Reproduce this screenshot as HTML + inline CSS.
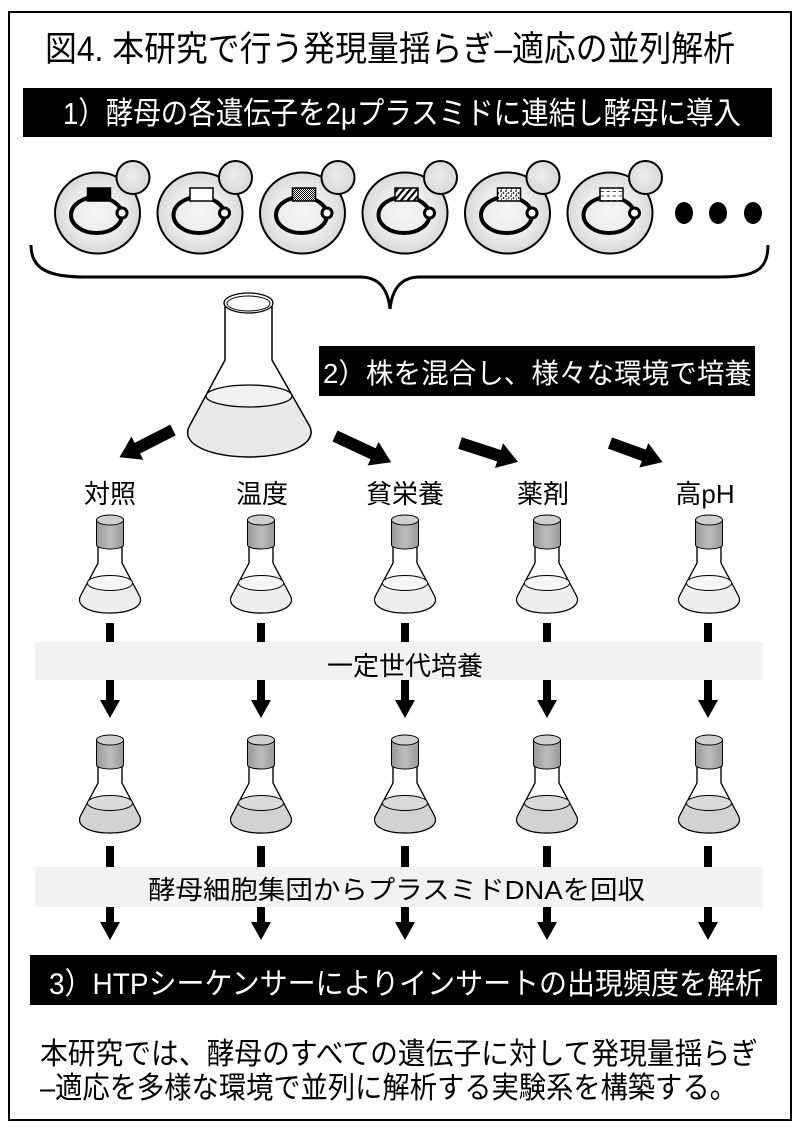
<!DOCTYPE html>
<html><head><meta charset="utf-8"><style>
html,body{margin:0;padding:0;background:#fff;}
svg{display:block;}
text{font-family:"Liberation Sans","Noto Sans CJK JP",sans-serif;}
</style></head><body>
<svg width="807" height="1128" viewBox="0 0 807 1128" xmlns="http://www.w3.org/2000/svg">
<defs>
  <radialGradient id="cell" cx="50%" cy="50%" r="50%">
    <stop offset="0" stop-color="#f5f5f5"/><stop offset="0.65" stop-color="#eaeaea"/><stop offset="1" stop-color="#d8d8d8"/>
  </radialGradient>
  <radialGradient id="bud" cx="45%" cy="45%" r="55%">
    <stop offset="0" stop-color="#ececec"/><stop offset="1" stop-color="#d8d8d8"/>
  </radialGradient>
  <linearGradient id="cap" x1="0" x2="1" y1="0" y2="0">
    <stop offset="0" stop-color="#999"/><stop offset="0.5" stop-color="#bdbdbd"/><stop offset="1" stop-color="#999"/>
  </linearGradient>
  <pattern id="p3" width="2" height="2" patternUnits="userSpaceOnUse">
    <rect width="2" height="2" fill="#fff"/><rect width="1" height="1" fill="#000"/><rect x="1" y="1" width="1" height="1" fill="#000"/>
  </pattern>
  <pattern id="p4" width="5" height="5" patternUnits="userSpaceOnUse" patternTransform="rotate(40)">
    <rect width="5" height="5" fill="#fff"/><rect width="2.2" height="5" fill="#000"/>
  </pattern>
  <pattern id="p5" width="5" height="5" patternUnits="userSpaceOnUse">
    <rect width="5" height="5" fill="#fff"/><circle cx="1" cy="1" r="0.9" fill="#000"/><circle cx="3.5" cy="3" r="0.9" fill="#000"/><circle cx="1.5" cy="4" r="0.6" fill="#000"/>
  </pattern>
  <pattern id="p6" width="6" height="4.5" patternUnits="userSpaceOnUse">
    <rect width="6" height="4.5" fill="#fff"/><rect x="0.5" y="2" width="3.5" height="1" fill="#555"/>
  </pattern>

  <g id="flaskA">
    <path d="M-12,30 L-12,48 L-29,80 C-35,90 -22,98 0,98 C22,98 35,90 29,80 L12,48 L12,30" fill="#fff" stroke="#000" stroke-width="1.2"/>
    <path d="M-22.6,68 A23,7.5 0 0 1 22.6,68 L29,80 C35,90 22,98 0,98 C-22,98 -35,90 -29,80 Z" fill="#eeeeee"/>
    <path d="M-12,30 L-12,48 L-29,80 C-35,90 -22,98 0,98 C22,98 35,90 29,80 L12,48 L12,30" fill="none" stroke="#000" stroke-width="1.2"/>
    <ellipse cx="0" cy="68" rx="22.6" ry="7.5" fill="#f5f5f5" stroke="#000" stroke-width="1"/>
    <path d="M-13.5,5 L-13.5,30 A13.5,4 0 0 0 13.5,30 L13.5,5 Z" fill="url(#cap)" stroke="#000" stroke-width="1"/>
    <ellipse cx="0" cy="5" rx="13.5" ry="5" fill="#cfcfcf" stroke="#000" stroke-width="1"/>
  </g>
  <g id="flaskB">
    <path d="M-12,30 L-12,48 L-29,80 C-35,90 -22,98 0,98 C22,98 35,90 29,80 L12,48 L12,30" fill="#fff" stroke="#000" stroke-width="1.2"/>
    <path d="M-22.6,68 A23,7.5 0 0 1 22.6,68 L29,80 C35,90 22,98 0,98 C-22,98 -35,90 -29,80 Z" fill="#d2d2d2"/>
    <path d="M-12,30 L-12,48 L-29,80 C-35,90 -22,98 0,98 C22,98 35,90 29,80 L12,48 L12,30" fill="none" stroke="#000" stroke-width="1.2"/>
    <ellipse cx="0" cy="68" rx="22.6" ry="7.5" fill="#dadada" stroke="#000" stroke-width="1"/>
    <path d="M-13.5,5 L-13.5,30 A13.5,4 0 0 0 13.5,30 L13.5,5 Z" fill="url(#cap)" stroke="#000" stroke-width="1"/>
    <ellipse cx="0" cy="5" rx="13.5" ry="5" fill="#cfcfcf" stroke="#000" stroke-width="1"/>
  </g>
  <g id="cellg">
    <ellipse cx="0" cy="213" rx="42.5" ry="40.5" fill="url(#cell)" stroke="#000" stroke-width="2"/>
    <circle cx="35.5" cy="177.5" r="16.5" fill="url(#bud)" stroke="#000" stroke-width="2"/>
    <ellipse cx="-1" cy="215" rx="25.5" ry="18" fill="none" stroke="#000" stroke-width="4"/>
    <circle cx="24.5" cy="213" r="5" fill="#fff" stroke="#000" stroke-width="3"/>
  </g>
</defs>

<rect width="807" height="1128" fill="#fff"/>
<rect x="9" y="12" width="782" height="1108" fill="none" stroke="#000" stroke-width="2"/>

<!-- Title -->
<text x="45" y="61" font-size="35" textLength="690" lengthAdjust="spacingAndGlyphs" fill="#000">図4. 本研究で行う発現量揺らぎ–適応の並列解析</text>

<!-- Bar 1 -->
<rect x="23" y="88" width="749" height="49" fill="#000"/>
<text x="63" y="124" font-size="31" textLength="678" lengthAdjust="spacingAndGlyphs" fill="#fff">1）酵母の各遺伝子を2μプラスミドに連結し酵母に導入</text>

<!-- Cells -->
<use href="#cellg" x="97.5" y="0"/>
<rect x="87.5" y="188" width="23" height="13" fill="#000" stroke="#000" stroke-width="1.5"/>
<use href="#cellg" x="200" y="0"/>
<rect x="190" y="188" width="23" height="13" fill="#fff" stroke="#000" stroke-width="1.5"/>
<use href="#cellg" x="302.5" y="0"/>
<rect x="292.5" y="188" width="23" height="13" fill="url(#p3)" stroke="#000" stroke-width="1.5"/>
<use href="#cellg" x="405" y="0"/>
<rect x="395" y="188" width="23" height="13" fill="url(#p4)" stroke="#000" stroke-width="1.5"/>
<use href="#cellg" x="507.5" y="0"/>
<rect x="497.5" y="188" width="23" height="13" fill="url(#p5)" stroke="#000" stroke-width="1.5"/>
<use href="#cellg" x="610" y="0"/>
<rect x="600" y="188" width="23" height="13" fill="url(#p6)" stroke="#000" stroke-width="1.5"/>

<ellipse cx="684" cy="213" rx="9" ry="11" fill="#000"/>
<ellipse cx="718" cy="213" rx="9" ry="11" fill="#000"/>
<ellipse cx="753" cy="213" rx="9" ry="11" fill="#000"/>

<!-- Brace -->
<path d="M31,245 C31,270 50,277 85,277 L360,277 C380,277 388,290 390,309 C392,290 400,277 420,277 L720,277 C755,277 768,270 768,245" fill="none" stroke="#000" stroke-width="3"/>

<!-- Big flask -->
<path d="M206,396 A43,11 0 0 1 292,396 L309,425 C320,445 285,457 249,457 C213,457 178,445 190,425 Z" fill="#e8e8e8"/>
<path d="M225,303 L225,360 L190,425 C178,445 213,457 249,457 C285,457 320,445 309,425 L272,360 L272,303" fill="none" stroke="#000" stroke-width="1.5"/>
<ellipse cx="249" cy="396" rx="43" ry="11" fill="#f2f2f2" stroke="#000" stroke-width="1.3"/>
<ellipse cx="248.5" cy="303" rx="24.5" ry="10" fill="#fff" stroke="#000" stroke-width="1.3"/>
<ellipse cx="248.5" cy="303.5" rx="21.5" ry="7.5" fill="none" stroke="#000" stroke-width="1"/>

<!-- Bar 2 -->
<rect x="319" y="346" width="436" height="50" fill="#000"/>
<text x="323" y="383" font-size="28" textLength="429" lengthAdjust="spacingAndGlyphs" fill="#fff">2）株を混合し、様々な環境で培養</text>

<!-- Diagonal arrows -->
<g fill="#000">
  <polygon transform="translate(173,430) rotate(153)" points="0,-6 40,-6 40,-13 60,0 40,13 40,6 0,6"/>
  <polygon transform="translate(335,436) rotate(25)" points="0,-6 42,-6 42,-13 62,0 42,13 42,6 0,6"/>
  <polygon transform="translate(460,443) rotate(18)" points="0,-6 41,-6 41,-13 61,0 41,13 41,6 0,6"/>
  <polygon transform="translate(610,443) rotate(20)" points="0,-6 36,-6 36,-13 56,0 36,13 36,6 0,6"/>
</g>

<!-- Labels -->
<g font-size="26" text-anchor="middle" fill="#000">
  <text x="110" y="503">対照</text>
  <text x="262" y="503">温度</text>
  <text x="405" y="503">貧栄養</text>
  <text x="543" y="503">薬剤</text>
  <text x="705" y="503">高pH</text>
</g>

<!-- Row 1 flasks -->
<use href="#flaskA" x="110" y="515"/>
<use href="#flaskA" x="261" y="515"/>
<use href="#flaskA" x="405" y="515"/>
<use href="#flaskA" x="547" y="515"/>
<use href="#flaskA" x="709" y="515"/>

<!-- Row 1 arrows -->
<g fill="#000">
  <rect x="106" y="623" width="8" height="80"/><polygon points="100,700 120,700 110,718"/>
  <rect x="257" y="623" width="8" height="80"/><polygon points="251,700 271,700 261,718"/>
  <rect x="401" y="623" width="8" height="80"/><polygon points="395,700 415,700 405,718"/>
  <rect x="543" y="623" width="8" height="80"/><polygon points="537,700 557,700 547,718"/>
  <rect x="704" y="623" width="8" height="80"/><polygon points="698,700 718,700 708,718"/>
</g>
<rect x="35" y="642" width="728" height="38" fill="#f2f2f2"/>
<text x="405" y="675" font-size="26" text-anchor="middle" fill="#000">一定世代培養</text>

<!-- Row 2 flasks -->
<use href="#flaskB" x="110" y="735"/>
<use href="#flaskB" x="261" y="735"/>
<use href="#flaskB" x="405" y="735"/>
<use href="#flaskB" x="547" y="735"/>
<use href="#flaskB" x="709" y="735"/>

<!-- Row 2 arrows -->
<g fill="#000">
  <rect x="106" y="846" width="8" height="80"/><polygon points="100,922 120,922 110,940"/>
  <rect x="257" y="846" width="8" height="80"/><polygon points="251,922 271,922 261,940"/>
  <rect x="401" y="846" width="8" height="80"/><polygon points="395,922 415,922 405,940"/>
  <rect x="543" y="846" width="8" height="80"/><polygon points="537,922 557,922 547,940"/>
  <rect x="704" y="846" width="8" height="80"/><polygon points="698,922 718,922 708,940"/>
</g>
<rect x="35" y="867" width="728" height="40" fill="#f2f2f2"/>
<text x="148" y="899" font-size="26" textLength="497" lengthAdjust="spacingAndGlyphs" fill="#000">酵母細胞集団からプラスミドDNAを回収</text>

<!-- Bar 3 -->
<rect x="30" y="955" width="747" height="50" fill="#000"/>
<text x="49" y="994" font-size="30" textLength="714" lengthAdjust="spacingAndGlyphs" fill="#fff">3）HTPシーケンサーによりインサートの出現頻度を解析</text>

<!-- Bottom text -->
<text x="40" y="1064" font-size="30" textLength="718" lengthAdjust="spacingAndGlyphs" fill="#000">本研究では、酵母のすべての遺伝子に対して発現量揺らぎ</text>
<text x="40" y="1098" font-size="30" textLength="697" lengthAdjust="spacingAndGlyphs" fill="#000">–適応を多様な環境で並列に解析する実験系を構築する。</text>
</svg>
</body></html>
